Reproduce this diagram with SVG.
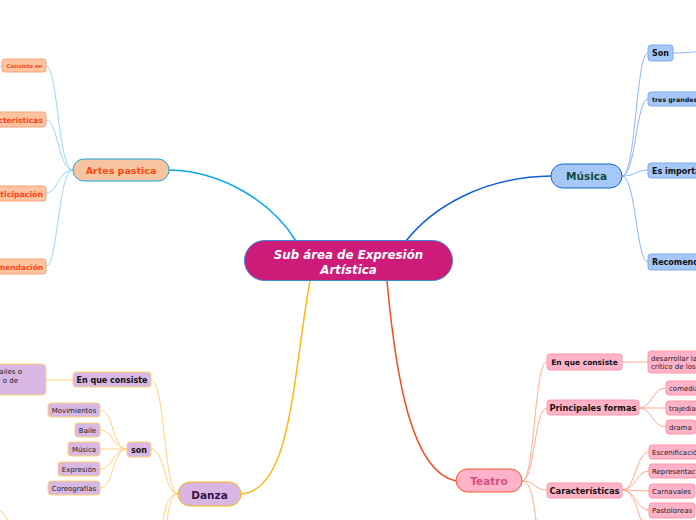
<svg xmlns="http://www.w3.org/2000/svg" width="696" height="520" viewBox="0 0 696 520">
<style>
text{font-family:"DejaVu Sans","Noto Sans",sans-serif;}
.b{font-weight:bold;}
.m{text-anchor:middle;}
.e{text-anchor:end;}
.main{fill:none;stroke-width:1.5;}
.lk{fill:none;stroke-width:1;}
.apk{stroke:#9AD7F4;}
.muk{stroke:#8EB6F1;}
.dak{stroke:#FFD37F;}
.tek{stroke:#FFAB93;}
.apc{fill:#FFC39F;stroke:#F5A27C;stroke-width:1;}
.apc-t{fill:#F9471B;font-weight:bold;}
.muc{fill:#A6C8F9;stroke:#7EABEF;stroke-width:1;}
.dac{fill:#D8B7E2;stroke:#FFD27A;stroke-width:1;}
.tec{fill:#FFB3C8;stroke:#FF97A8;stroke-width:1;}
.t7{font-size:7px;fill:#222;}
</style>
<rect width="696" height="520" fill="#ffffff"/>
<g id="connectors">
<path class="main" stroke="#0BA5EC" d="M296,241 C272,202 222,171 169,170"/>
<path class="main" stroke="#0F62D6" d="M406,241 C432,208 482,177 551,176"/>
<path class="main" stroke="#FDB813" d="M310,281 C292,380 292,490 241,494"/>
<path class="main" stroke="#F04C23" d="M387,281 C396,380 412,472 456,481"/>
<g class="lk apk">
<path d="M73,170 C58,170 58,66 46,66"/>
<path d="M73,170 C58,170 58,120 46,120"/>
<path d="M73,170 C58,170 58,193 46,193"/>
<path d="M73,170 C58,170 58,266 46,266"/>
<path d="M0,66 L2,66"/>
</g>
<g class="lk muk">
<path d="M622,176 C636,176 636,53 648,53"/>
<path d="M622,176 C636,176 636,99 648,99"/>
<path d="M622,176 C636,176 636,170 648,170"/>
<path d="M622,176 C636,176 636,262 648,262"/>
<path d="M673,53 C685,53 690,52 696,52"/>
</g>
<g class="lk dak">
<path d="M178,494 C164,494 165,380 151,380"/>
<path d="M178,494 C164,494 165,449 151,449"/>
<path d="M178,494 C168,494 166,505 163,520"/>
<path d="M178,494 C171,494 169,508 167,520"/>
<path d="M73,380 L46,380"/>
<path d="M127,449 C112,449 114,410 100,410"/>
<path d="M127,449 C112,449 114,430 100,430"/>
<path d="M127,449 L100,449"/>
<path d="M127,449 C112,449 114,469 100,469"/>
<path d="M127,449 C112,449 114,488 100,488"/>
<path d="M0,511 C4,513 6,516 7,520"/>
</g>
<g class="lk tek">
<path d="M522,481 C535,481 534,362 547,362"/>
<path d="M522,481 C535,481 534,408 547,408"/>
<path d="M522,481 C535,481 534,490 547,490"/>
<path d="M522,481 C531,481 533,500 536,520"/>
<path d="M622,362 L648,362"/>
<path d="M639,408 C652,408 652,388 666,388"/>
<path d="M639,408 L666,408"/>
<path d="M639,408 C652,408 652,427 666,427"/>
<path d="M622,490 C636,490 636,452 649,452"/>
<path d="M622,490 C636,490 636,471 649,471"/>
<path d="M622,490 L649,491"/>
<path d="M622,490 C636,490 636,510 649,510"/>
<path d="M622,490 C632,490 636,505 641,520"/>
</g>
</g>
<g id="central">
<rect x="244.5" y="240.5" width="208" height="40" rx="20" fill="#CC1B79" stroke="#3D8BD8" stroke-width="1"/>
<text x="348.5" y="259" class="b m" font-size="11.8" font-style="italic" fill="#ffffff">Sub área de Expresión</text>
<text x="348.5" y="274" class="b m" font-size="11.8" font-style="italic" fill="#ffffff">Artística</text>
</g>
<g id="artes">
<rect x="73" y="159" width="96" height="22" rx="11" fill="#F6C59F" stroke="#1BA3E6" stroke-width="1"/>
<text x="121" y="173.5" class="b m" font-size="9.5" fill="#FF4A12">Artes pastica</text>
</g>
<g id="artes-consiste">
<rect class="apc" x="2" y="59" width="44" height="13" rx="3"/>
<text x="24.5" y="67.8" class="apc-t m" font-size="5.5">Consiste en</text>
</g>
<g id="artes-caracteristicas">
<rect class="apc" x="-20" y="112" width="66" height="15" rx="3"/>
<text x="43" y="122.8" class="apc-t e" font-size="7.6">Características</text>
</g>
<g id="artes-participacion">
<rect class="apc" x="-20" y="186" width="66" height="15" rx="3"/>
<text x="43" y="196.8" class="apc-t e" font-size="7.8">Participación</text>
</g>
<g id="artes-recomendacion">
<rect class="apc" x="-20" y="259" width="66" height="15" rx="3"/>
<text x="43" y="269.8" class="apc-t e" font-size="7.4">Recomendación</text>
</g>
<g id="musica">
<rect x="551" y="164" width="71" height="24" rx="12" fill="#A6C8F9" stroke="#1565D8" stroke-width="1"/>
<text x="586.5" y="180" class="b m" font-size="10.5" fill="#0F4D3E">Música</text>
</g>
<g id="musica-son">
<rect class="muc" x="648" y="45" width="25" height="16" rx="3"/>
<text x="652" y="56" class="b" font-size="8" fill="#111">Son</text>
</g>
<g id="musica-tres">
<rect class="muc" x="648" y="92" width="60" height="14" rx="3"/>
<text x="652" y="101.5" class="b" font-size="6.3" fill="#111">tres grandes grupos</text>
</g>
<g id="musica-importante">
<rect class="muc" x="648" y="163" width="60" height="15" rx="3"/>
<text x="652" y="173.8" class="b" font-size="8" fill="#111">Es importante</text>
</g>
<g id="musica-recomendaciones">
<rect class="muc" x="648" y="254" width="60" height="16" rx="3"/>
<text x="652" y="265" class="b" font-size="8" fill="#111">Recomendaciones</text>
</g>
<g id="danza">
<rect x="178" y="482" width="63" height="24" rx="12" fill="#D8B6E2" stroke="#FBB613" stroke-width="1"/>
<text x="209.5" y="498.5" class="b m" font-size="10.5" fill="#3B0F4C">Danza</text>
</g>
<g id="danza-consiste">
<rect class="dac" x="73" y="372" width="78" height="15" rx="3"/>
<text x="112" y="383" class="b m" font-size="8" fill="#111">En que consiste</text>
</g>
<g id="danza-consiste-texto">
<rect class="dac" x="-60" y="364" width="106" height="31" rx="4"/>
<text x="22" y="373.5" class="e t7">bailes o</text>
<text x="18" y="382.5" class="e t7">o de</text>
</g>
<g id="danza-son">
<rect class="dac" x="127" y="442" width="24" height="15" rx="3"/>
<text x="139" y="452.8" class="b m" font-size="8" fill="#111">son</text>
</g>
<g id="danza-movimientos">
<rect class="dac" x="48" y="403" width="52" height="14" rx="3"/>
<text x="74" y="412.5" class="m t7">Movimientos</text>
</g>
<g id="danza-baile">
<rect class="dac" x="75" y="423" width="25" height="14" rx="3"/>
<text x="87.5" y="432.5" class="m t7">Baile</text>
</g>
<g id="danza-musica">
<rect class="dac" x="68" y="442" width="32" height="14" rx="3"/>
<text x="84" y="451.5" class="m t7">Música</text>
</g>
<g id="danza-expresion">
<rect class="dac" x="58" y="462" width="42" height="14" rx="3"/>
<text x="79" y="471.5" class="m t7">Expresión</text>
</g>
<g id="danza-coreografias">
<rect class="dac" x="48" y="481" width="52" height="14" rx="3"/>
<text x="74" y="490.5" class="m t7">Coreografías</text>
</g>
<g id="teatro">
<rect x="456" y="469" width="66" height="23" rx="11.5" fill="#FFB2C8" stroke="#F25A2C" stroke-width="1"/>
<text x="489" y="485" class="b m" font-size="10.5" fill="#D64F82">Teatro</text>
</g>
<g id="teatro-consiste">
<rect class="tec" x="547" y="354" width="75" height="16" rx="3"/>
<text x="584.5" y="364.8" class="b m" font-size="7.5" fill="#111">En que consiste</text>
</g>
<g id="teatro-consiste-texto">
<rect class="tec" x="648" y="351" width="60" height="22" rx="3"/>
<text x="651" y="360.5" class="t7">desarrollar la</text>
<text x="651" y="368.8" class="t7">crítico de los</text>
</g>
<g id="teatro-formas">
<rect class="tec" x="547" y="400" width="92" height="15" rx="3"/>
<text x="593" y="410.8" class="b m" font-size="8.3" fill="#111">Principales formas</text>
</g>
<g id="teatro-comedia">
<rect class="tec" x="666" y="381" width="40" height="14" rx="3"/>
<text x="669" y="390.5" class="t7">comedia</text>
</g>
<g id="teatro-trajedia">
<rect class="tec" x="666" y="401" width="40" height="14" rx="3"/>
<text x="669" y="410.5" class="t7">trajedia</text>
</g>
<g id="teatro-drama">
<rect class="tec" x="666" y="420" width="30" height="14" rx="3"/>
<text x="669" y="429.5" class="t7">drama</text>
</g>
<g id="teatro-caracteristicas">
<rect class="tec" x="547" y="483" width="75" height="15" rx="3"/>
<text x="584.5" y="493.8" class="b m" font-size="8.3" fill="#111">Características</text>
</g>
<g id="teatro-escenificacion">
<rect class="tec" x="649" y="445" width="60" height="14" rx="3"/>
<text x="652" y="454.5" class="t7">Escenificación</text>
</g>
<g id="teatro-representacion">
<rect class="tec" x="649" y="464" width="60" height="14" rx="3"/>
<text x="652" y="473.5" class="t7">Representación</text>
</g>
<g id="teatro-carnavales">
<rect class="tec" x="649" y="484" width="46" height="14" rx="3"/>
<text x="652" y="493.5" class="t7">Carnavales</text>
</g>
<g id="teatro-pastoloreas">
<rect class="tec" x="649" y="503" width="46" height="15" rx="3"/>
<text x="652" y="513" class="t7">Pastoloreas</text>
</g>
</svg>
